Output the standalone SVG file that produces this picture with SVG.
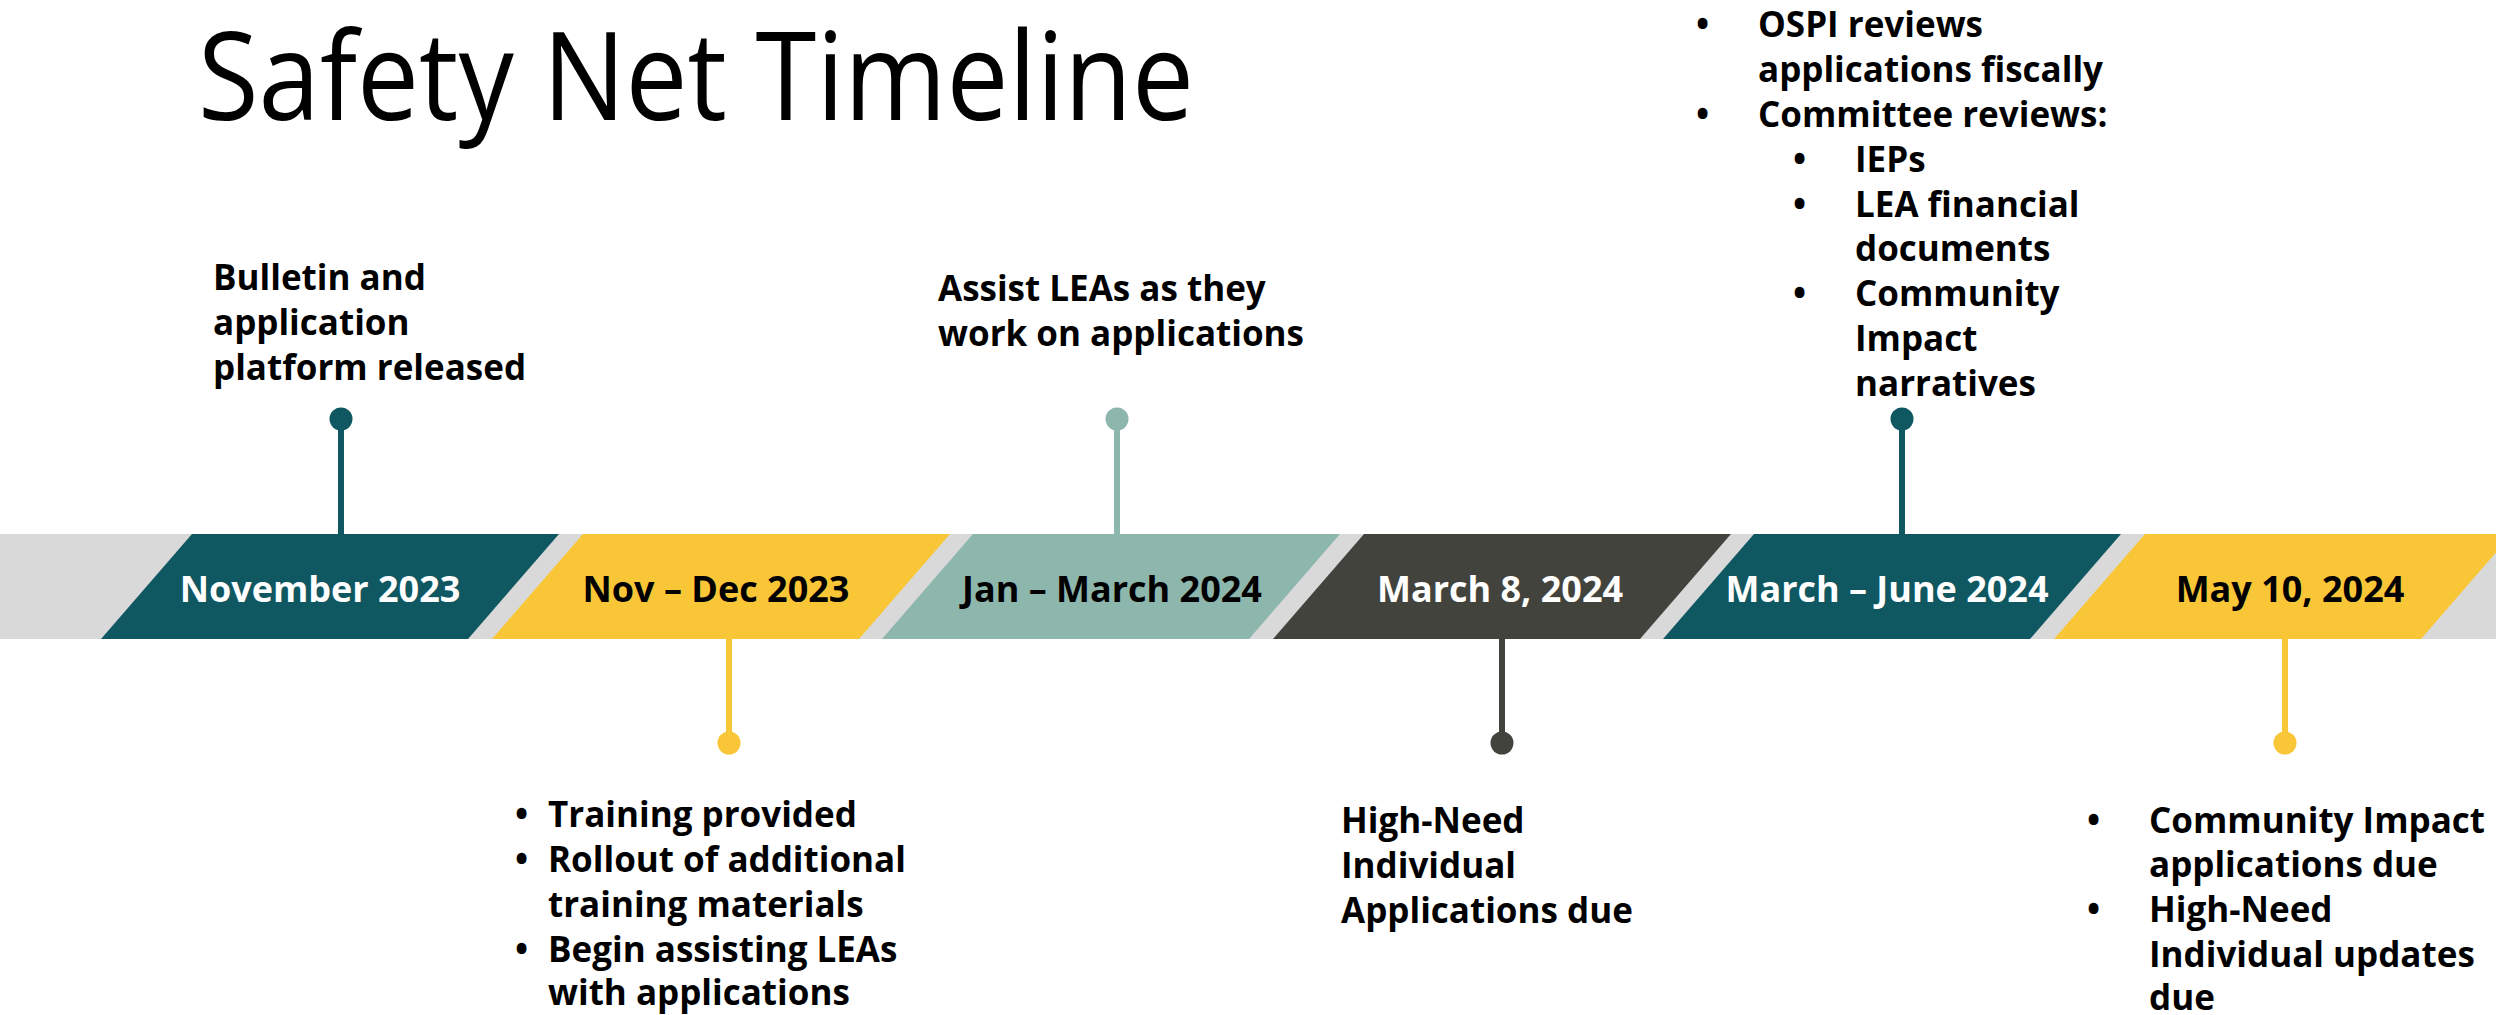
<svg xmlns="http://www.w3.org/2000/svg" width="2496" height="1015" viewBox="0 0 2496 1015">
<style>
.title{font-family:"Open Sans","Segoe UI","Liberation Sans",sans-serif;font-weight:400;font-size:122px;fill:#000}
.date{font-family:"Open Sans","Liberation Sans",sans-serif;font-weight:700;font-size:36px;text-anchor:middle}
.body{font-family:"Open Sans","Liberation Sans",sans-serif;font-weight:700;font-size:35px;fill:#000}
.w{fill:#fff}.k{fill:#000}
.teal{fill:#0F5761}.yel{fill:#F9C637}.lt{fill:#8DB6AC}.dk{fill:#43433D}
.steal{stroke:#0F5761}.syel{stroke:#F9C637}.slt{stroke:#8DB6AC}.sdk{stroke:#43433D}
.stem{stroke-width:6;fill:none}
</style>
<rect width="2496" height="1015" fill="#fff"/>
<text class="title" x="198" y="120" textLength="996" lengthAdjust="spacingAndGlyphs">Safety Net Timeline</text>
<rect id="band" x="0" y="534" width="2496" height="105" fill="#D9D9D9"/>
<g id="connectors">
<line class="stem steal" x1="341" y1="419" x2="341" y2="535"/>
<line class="stem syel" x1="729" y1="639" x2="729" y2="743"/>
<line class="stem slt" x1="1117" y1="419" x2="1117" y2="535"/>
<line class="stem sdk" x1="1502" y1="639" x2="1502" y2="743"/>
<line class="stem steal" x1="1902" y1="419" x2="1902" y2="535"/>
<line class="stem syel" x1="2285" y1="639" x2="2285" y2="743"/>
</g>
<g id="node-nov2023">
<polygon class="teal" points="101,639 192,534 559,534 468,639"/>
<text class="date w" x="320" y="602">November 2023</text>
<circle class="teal" cx="341" cy="419" r="11.5"/>
<text class="body" x="213"><tspan x="213" y="290">Bulletin and</tspan><tspan x="213" y="335">application</tspan><tspan x="213" y="380">platform released</tspan></text>
</g>
<g id="node-novdec2023">
<polygon class="yel" points="492,639 583,534 950,534 859,639"/>
<text class="date k" x="716" y="602">Nov – Dec 2023</text>
<circle class="yel" cx="729" cy="743" r="11.5"/>
<text class="body"><tspan x="515" y="827">•</tspan><tspan x="548" y="827">Training provided</tspan><tspan x="515" y="872">•</tspan><tspan x="548" y="872">Rollout of additional</tspan><tspan x="548" y="917">training materials</tspan><tspan x="515" y="962">•</tspan><tspan x="548" y="962">Begin assisting LEAs</tspan><tspan x="548" y="1005">with applications</tspan></text>
</g>
<g id="node-janmar2024">
<polygon class="lt" points="882,639 973,534 1340,534 1249,639"/>
<text class="date k" x="1112" y="602">Jan – March 2024</text>
<circle class="lt" cx="1117" cy="419" r="11.5"/>
<text class="body"><tspan x="938" y="301">Assist LEAs as they</tspan><tspan x="938" y="346">work on applications</tspan></text>
</g>
<g id="node-mar8-2024">
<polygon class="dk" points="1273,639 1364,534 1731,534 1640,639"/>
<text class="date w" x="1500" y="602">March 8, 2024</text>
<circle class="dk" cx="1502" cy="743" r="11.5"/>
<text class="body"><tspan x="1341" y="833">High-Need</tspan><tspan x="1341" y="878">Individual</tspan><tspan x="1341" y="923">Applications due</tspan></text>
</g>
<g id="node-marjun2024">
<polygon class="teal" points="1663,639 1754,534 2121,534 2030,639"/>
<text class="date w" x="1887" y="602">March – June 2024</text>
<circle class="teal" cx="1902" cy="419" r="11.5"/>
<text class="body"><tspan x="1696" y="37">•</tspan><tspan x="1758" y="37">OSPI reviews</tspan><tspan x="1758" y="82">applications fiscally</tspan><tspan x="1696" y="127">•</tspan><tspan x="1758" y="127">Committee reviews:</tspan><tspan x="1793" y="172">•</tspan><tspan x="1855" y="172">IEPs</tspan><tspan x="1793" y="217">•</tspan><tspan x="1855" y="217">LEA financial</tspan><tspan x="1855" y="261">documents</tspan><tspan x="1793" y="306">•</tspan><tspan x="1855" y="306">Community</tspan><tspan x="1855" y="351">Impact</tspan><tspan x="1855" y="396">narratives</tspan></text>
</g>
<g id="node-may10-2024">
<polygon class="yel" points="2054,639 2145,534 2512,534 2421,639"/>
<text class="date k" x="2290" y="602">May 10, 2024</text>
<circle class="yel" cx="2285" cy="743" r="11.5"/>
<text class="body"><tspan x="2087" y="833">•</tspan><tspan x="2149" y="833">Community Impact</tspan><tspan x="2149" y="877">applications due</tspan><tspan x="2087" y="922">•</tspan><tspan x="2149" y="922">High-Need</tspan><tspan x="2149" y="967">Individual updates</tspan><tspan x="2149" y="1010">due</tspan></text>
</g>
</svg>
